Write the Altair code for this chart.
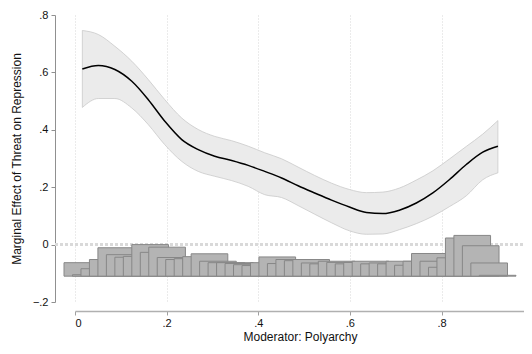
import altair as alt
import pandas as pd

# Marginal-effect curve (moderator value, estimate, lower CI, upper CI)
x_vals = [0.016, 0.051, 0.087, 0.124, 0.160, 0.196, 0.233, 0.269, 0.305, 0.342,
          0.378, 0.414, 0.451, 0.487, 0.523, 0.560, 0.599, 0.636, 0.672, 0.708,
          0.745, 0.781, 0.817, 0.854, 0.890, 0.923]
est = [0.612, 0.624, 0.610, 0.569, 0.505, 0.430, 0.366, 0.331, 0.308, 0.293,
       0.276, 0.255, 0.232, 0.205, 0.180, 0.155, 0.131, 0.112, 0.108, 0.120,
       0.145, 0.180, 0.226, 0.279, 0.322, 0.343]
lo = [0.478, 0.509, 0.509, 0.476, 0.418, 0.348, 0.290, 0.255, 0.238, 0.223,
      0.203, 0.174, 0.164, 0.136, 0.106, 0.076, 0.048, 0.036, 0.037, 0.052,
      0.073, 0.099, 0.132, 0.170, 0.226, 0.250]
hi = [0.746, 0.732, 0.691, 0.639, 0.575, 0.505, 0.441, 0.401, 0.377, 0.362,
      0.343, 0.320, 0.299, 0.270, 0.241, 0.214, 0.192, 0.181, 0.183, 0.197,
      0.225, 0.257, 0.298, 0.342, 0.385, 0.432]

# Histogram of the moderator (bar tops, drawn from a common baseline)
hist_tops = [-0.063, -0.105, -0.084, -0.052, -0.011, -0.035, -0.044, -0.041, 0.000, -0.027,
             -0.009, -0.045, -0.052, -0.049, -0.042, -0.032, -0.058, -0.063, -0.063, -0.066,
             -0.070, -0.073, -0.063, -0.043, -0.066, -0.052, -0.056, -0.052, -0.064, -0.067,
             -0.058, -0.062, -0.067, -0.062, -0.058, -0.067, -0.064, -0.067, -0.058, -0.072,
             -0.058, -0.031, -0.058, -0.079, -0.046, 0.023, 0.032, -0.004, -0.064, -0.107]
hist_first = -0.024
hist_step = 0.0185
hist_width = 0.08
hist_base = -0.11

x_ticks = [0, 0.2, 0.4, 0.6, 0.8, 1]
y_ticks = [-0.2, 0, 0.2, 0.4, 0.6, 0.8]

curve = pd.DataFrame({"x": x_vals, "est": est, "lo": lo, "hi": hi})
hist_x0 = [round(hist_first + i * hist_step, 4) for i in range(len(hist_tops))]
hist = pd.DataFrame({
    "x": hist_x0,
    "x1": [v + hist_width for v in hist_x0],
    "top": hist_tops,
    "lo": [hist_base] * len(hist_tops),
})

label_expr = ("datum.value == 0 ? '0' : datum.value == 1 ? '1' : "
              "replace(format(datum.value, '.1f'), '0.', '.')")

# the picture is cropped on the right just past x = 1
xscale = alt.Scale(domain=[0, 0.98], nice=False, zero=False)
yscale = alt.Scale(domain=[-0.2, 0.8], nice=False, zero=False)

x_axis = alt.Axis(values=x_ticks, labelExpr=label_expr, offset=9, grid=True,
                  gridDash=[1, 2], gridColor="#d6d6d6", gridWidth=1,
                  tickSize=4, tickColor="#a0a0a0", domainColor="#b0b0b0",
                  domainWidth=1.5, labelFontSize=11, labelColor="#111",
                  labelPadding=2, title="Moderator: Polyarchy",
                  titleFontSize=12, titleFontWeight="normal", titleColor="#111",
                  titlePadding=3, titleX=225)
y_axis = alt.Axis(values=y_ticks, labelExpr=label_expr, offset=20, grid=False,
                  tickSize=4, tickColor="#909090", domainColor="#909090",
                  labelFontSize=11, labelColor="#111", labelPadding=3,
                  title="Marginal Effect of Threat on Repression",
                  titleFontSize=12, titleFontWeight="normal", titleColor="#111",
                  titleX=-32)

X = alt.X("x:Q", scale=xscale, axis=x_axis)

band = alt.Chart(curve).mark_area(
    interpolate="monotone", color="#ebebeb", stroke="#c9c9c9", strokeWidth=0.8
).encode(
    x=X,
    y=alt.Y("lo:Q", scale=yscale, axis=y_axis),
    y2="hi:Q",
)

line = alt.Chart(curve).mark_line(
    interpolate="monotone", color="#000000", strokeWidth=1.5
).encode(
    x=X,
    y=alt.Y("est:Q", scale=yscale, axis=y_axis),
)

zero = alt.Chart(pd.DataFrame({"lo": [0]})).mark_rule(
    color="#d9d9d9", strokeWidth=3, strokeDash=[3, 2]
).encode(
    y=alt.Y("lo:Q", scale=yscale, axis=y_axis),
    x=alt.value(-20),
    x2=alt.value(460),
)

bars = alt.Chart(hist).mark_bar(
    color="#b4b4b4", stroke="#878787", strokeWidth=1, clip=False
).encode(
    x=X,
    x2="x1:Q",
    y=alt.Y("lo:Q", scale=yscale, axis=y_axis),
    y2="top:Q",
)

chart = alt.layer(band, line, zero, bars).properties(
    width=449, height=287,
    autosize=alt.AutoSizeParams(type="none"),
    padding={"left": 67, "top": 7, "right": 0, "bottom": 44},
).configure(
    font="Liberation Sans"
).configure_view(stroke=None)

chart.save("out.html", embed_options={"renderer": "svg", "actions": False})
